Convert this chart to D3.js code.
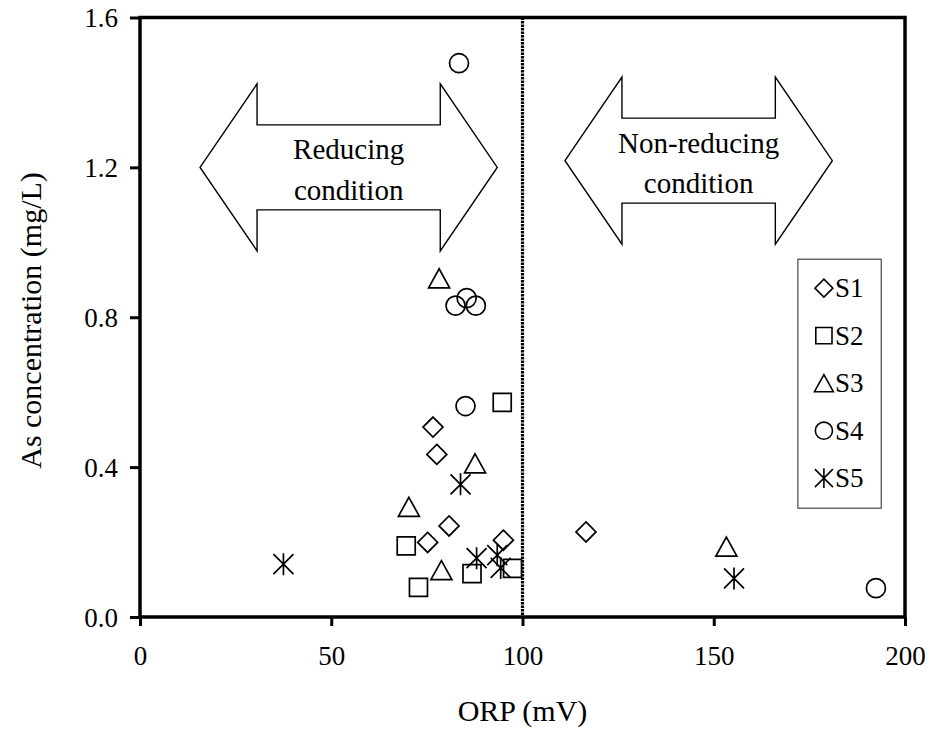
<!DOCTYPE html>
<html>
<head>
<meta charset="utf-8">
<script src="https://cdn.jsdelivr.net/npm/d3@7"></script>
<style>
  body { margin: 0; background: #fff; }
  svg text { font-family: 'Liberation Serif', 'Times New Roman', Times, 'DejaVu Serif', serif; }
</style>
</head>
<body>
<svg id="chart"></svg>
<script>
// values: [ORP (mV), As (mg/L)]
const seriesNames = ['S1', 'S2', 'S3', 'S4', 'S5'];
const s1 = [[76.6, 0.507], [77.6, 0.434], [80.8, 0.243], [75.2, 0.199], [95.0, 0.205], [116.6, 0.227]];
const s2 = [[94.7, 0.573], [69.6, 0.190], [72.8, 0.079], [86.8, 0.116], [97.4, 0.130]];
const s3 = [[78.2, 0.904], [87.6, 0.410], [70.3, 0.294], [78.8, 0.125], [153.3, 0.188]];
const s4 = [[83.4, 1.478], [82.5, 0.831], [85.4, 0.851], [87.8, 0.831], [85.1, 0.563], [192.4, 0.077]];
const s5 = [[37.5, 0.141], [83.8, 0.354], [88.0, 0.157], [93.4, 0.165], [94.3, 0.131], [155.3, 0.103]];
const xTicks = [0, 50, 100, 150, 200];
const yTicks = [0, 0.4, 0.8, 1.2, 1.6];
const boundaryOrp = 100;
const conditionLabels = [['Reducing', 'condition'], ['Non-reducing', 'condition']];
const conditionSpans = [[15.7, 93.4, 1.200], [111.1, 181.0, 1.218]]; // from, to, level (data units)

const serif = "'Liberation Serif', 'Times New Roman', Times, 'DejaVu Serif', serif";

class Scatter {

  constructor(_config) {
    this.config = {
      parentElement: _config.parentElement,
      containerWidth: _config.containerWidth || 932,
      containerHeight: _config.containerHeight || 732,
      margin: { top: 17.5, bottom: 115, right: 27, left: 140 }
    }
    this.initVis();
  }

  initVis() {
    let vis = this;
    const m = vis.config.margin;
    vis.width = vis.config.containerWidth - m.left - m.right;
    vis.height = vis.config.containerHeight - m.top - m.bottom;

    vis.svg = d3.select(vis.config.parentElement)
      .attr('width', vis.config.containerWidth)
      .attr('height', vis.config.containerHeight)
      .attr('font-family', serif);

    vis.chart = vis.svg.append('g').attr('transform', `translate(${m.left},${m.top})`);

    vis.x = d3.scaleLinear().domain([0, 200]).range([0, vis.width]);
    vis.y = d3.scaleLinear().domain([0, 1.6]).range([vis.height, 0]);

    // marker outlines, Excel style
    vis.shapes = {
      S1: r => `M0,${-r}L${r},0L0,${r}L${-r},0Z`,
      S2: r => `M${-r * 0.9},${-r * 0.9}h${r * 1.8}v${r * 1.8}h${-r * 1.8}Z`,
      S3: r => `M0,${-r * 0.95}L${r * 1.05},${r * 0.95}L${-r * 1.05},${r * 0.95}Z`,
      S4: r => d3.arc()({ innerRadius: 0, outerRadius: r * 0.95, startAngle: 0, endAngle: 2 * Math.PI }),
      S5: r => `M0,${-r * 1.1}V${r * 1.1}M${-r},${-r}L${r},${r}M${-r},${r}L${r},${-r}`
    };

    vis.updateVis();
  }

  updateVis() {
    let vis = this;
    vis.series = seriesNames.map((name, i) => ({ name, points: [s1, s2, s3, s4, s5][i] }));
    vis.renderVis();
  }

  renderVis() {
    let vis = this;

    // condition arrows
    const arrow = (x1, x2, cy, head, outer, shaft) =>
      `M${x1},${cy}L${x1 + head},${cy - outer}V${cy - shaft}H${x2 - head}V${cy - outer}` +
      `L${x2},${cy}L${x2 - head},${cy + outer}V${cy + shaft}H${x1 + head}V${cy + outer}Z`;

    const arrows = vis.chart.selectAll('.cond')
      .data(conditionSpans)
      .join('g')
      .attr('class', 'cond');

    arrows.append('path')
      .attr('d', d => arrow(vis.x(d[0]), vis.x(d[1]), vis.y(d[2]), 57, 83.5, 42.5))
      .attr('fill', '#fff')
      .attr('stroke', '#000')
      .attr('stroke-width', 1.4);

    arrows.each(function(d, i) {
      const cx = (vis.x(d[0]) + vis.x(d[1])) / 2;
      const cy = vis.y(d[2]);
      d3.select(this).selectAll('text')
        .data(conditionLabels[i])
        .join('text')
        .attr('x', cx)
        .attr('y', (t, j) => cy - 8 + j * 40.5)
        .attr('text-anchor', 'middle')
        .attr('font-size', 29)
        .attr('font-family', serif)
        .text(t => t);
    });

    // dotted boundary at 100 mV
    vis.chart.append('line')
      .attr('x1', vis.x(boundaryOrp)).attr('x2', vis.x(boundaryOrp))
      .attr('y1', 0).attr('y2', vis.height)
      .attr('stroke', '#000')
      .attr('stroke-width', 3.2)
      .attr('stroke-dasharray', '2.5,1');

    // points
    vis.series.forEach(s => {
      vis.chart.selectAll(`.pt-${s.name}`)
        .data(s.points)
        .join('path')
        .attr('class', `pt-${s.name}`)
        .attr('transform', d => `translate(${vis.x(d[0])},${vis.y(d[1])})`)
        .attr('d', vis.shapes[s.name](10))
        .attr('fill', 'none')
        .attr('stroke', '#000')
        .attr('stroke-width', 1.7);
    });

    // frame
    vis.chart.append('rect')
      .attr('width', vis.width).attr('height', vis.height)
      .attr('fill', 'none')
      .attr('stroke', '#000')
      .attr('stroke-width', 3.5);

    // axes
    const xAxis = vis.chart.append('g')
      .attr('transform', `translate(0,${vis.height})`)
      .call(d3.axisBottom(vis.x).tickValues(xTicks).tickSize(9).tickPadding(20).tickFormat(d3.format('d')));
    const yAxis = vis.chart.append('g')
      .call(d3.axisLeft(vis.y).tickValues(yTicks).tickSize(10).tickPadding(12).tickFormat(d3.format('.1f')));

    [xAxis, yAxis].forEach(ax => {
      ax.attr('font-family', serif);
      ax.select('.domain').remove();
      ax.selectAll('line').attr('stroke', '#000').attr('stroke-width', 3);
      ax.selectAll('text').attr('font-size', 27).attr('fill', '#000').attr('font-family', serif);
    });
    yAxis.selectAll('text').attr('dy', '0.34em');

    // titles
    vis.svg.append('text')
      .attr('x', vis.config.margin.left + vis.width / 2)
      .attr('y', 721)
      .attr('text-anchor', 'middle')
      .attr('font-size', 30)
      .attr('font-family', serif)
      .text('ORP (mV)');

    vis.svg.append('text')
      .attr('transform', `translate(41,${320.5}) rotate(-90)`)
      .attr('text-anchor', 'middle')
      .attr('font-size', 30)
      .attr('font-family', serif)
      .text('As concentration (mg/L)');

    // legend
    const lx = vis.x(172), ly = vis.y(0.955);
    const legend = vis.chart.append('g').attr('transform', `translate(${lx},${ly})`);
    legend.append('rect')
      .attr('width', 83.3).attr('height', 249)
      .attr('fill', '#fff')
      .attr('stroke', '#222')
      .attr('stroke-width', 1);

    const item = legend.selectAll('.item')
      .data(vis.series)
      .join('g')
      .attr('class', 'item')
      .attr('transform', (d, i) => `translate(26,${29 + i * 47.5})`);

    item.append('path')
      .attr('d', d => vis.shapes[d.name](9))
      .attr('fill', 'none')
      .attr('stroke', '#000')
      .attr('stroke-width', 1.6);

    item.append('text')
      .attr('x', 11)
      .attr('dy', '0.34em')
      .attr('font-size', 27)
      .attr('font-family', serif)
      .text(d => d.name);
  }
}

new Scatter({ parentElement: '#chart', containerWidth: 932, containerHeight: 732 });
</script>
</body>
</html>
